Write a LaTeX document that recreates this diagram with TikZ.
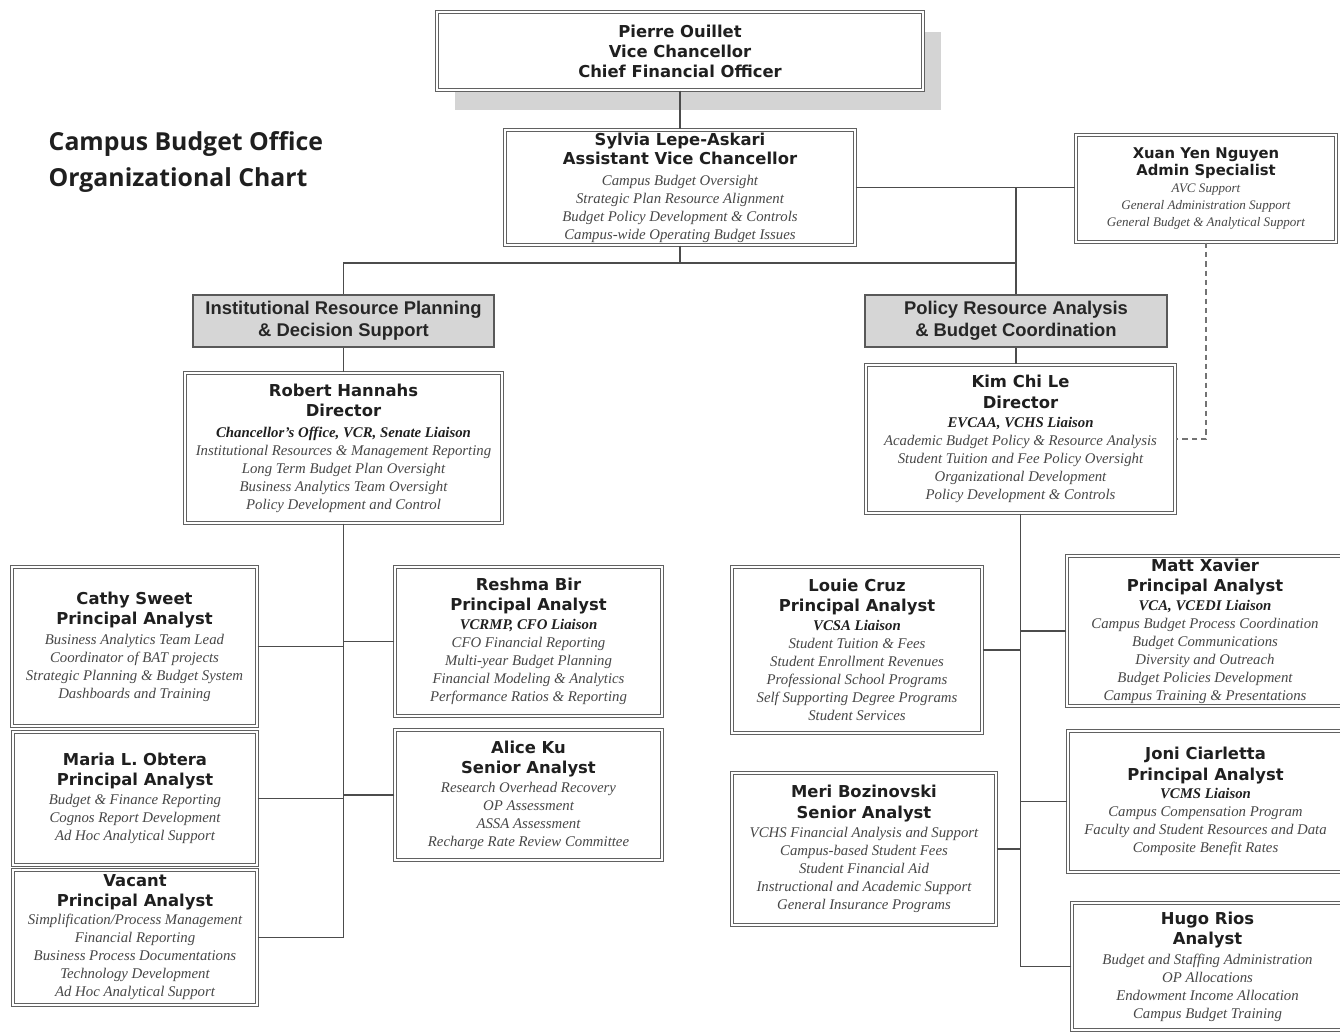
\documentclass[tikz,border=0pt]{standalone}
\usepackage{fontspec}
\setmainfont{Liberation Serif}
\newfontfamily\verd{DejaVu Sans}
\newfontfamily\arl{Liberation Sans}
\newfontfamily\opn{Open Sans}
\lineskiplimit=-20pt\relax
\newcommand\nm[1]{{\verd\bfseries\fontsize{12.3}{13.5}\selectfont\color{black!88}#1}}
\newcommand\du[1]{{\itshape\color{black!72}#1}}
\newcommand\li[1]{{\bfseries\itshape\color{black!88}#1}}
\newcommand\obox[7][box]{\node[#1,minimum width={(#5-#3)*0.75pt},minimum height={(#6-#4)*0.75pt}] (#2) at ({(#3+#5)/2},{(#4+#6)/2}) {#7};}
\tikzset{
  box/.style={draw=black!62, fill=white, double=white, double distance=1.5pt, line width=0.8pt, inner sep=0pt, align=center,
    font=\fontsize{11.1}{13.5}\selectfont},
  hdr/.style={draw=black!65, fill=black!16, line width=0.9pt, inner sep=0pt, align=center,
    font=\arl\bfseries\fontsize{13.8}{16.5}\selectfont, text=black!85},
  conn/.style={draw=black!70, line width=0.8pt},
  shade box/.style={fill=black!17, draw=none},
}
\begin{document}
\begin{tikzpicture}[x=0.75pt,y=-0.75pt]
\lineskiplimit=-20pt\relax
\useasboundingbox[fill=white] (0,0) rectangle (1340,1034);

\node[anchor=west, align=left, font=\opn\bfseries\fontsize{18.6}{27}\selectfont, text=black!88] (title) at (44,162) {Campus Budget Office\\Organizational Chart};

\fill[shade box] (455,32) rectangle (941,110);
\obox{pierre}{437}{12}{923}{90}{\nm{Pierre Ouillet}\\[1.5pt]\nm{Vice Chancellor}\\[1.5pt]\nm{Chief Financial Officer}}

\obox{sylvia}{505}{130}{855}{245}{\nm{Sylvia Lepe-Askari}\\[0.75pt]\nm{Assistant Vice Chancellor}\\[2.25pt]
\du{Campus Budget Oversight}\\\du{Strategic Plan Resource Alignment}\\\du{Budget Policy Development \& Controls}\\\du{Campus-wide Operating Budget Issues}}

\obox[box,font=\fontsize{9.8}{12.6}\selectfont]{xuan}{1076}{135}{1336}{242}{{\verd\bfseries\fontsize{11.1}{12.6}\selectfont\color{black!88}Xuan Yen Nguyen}\\[0.3pt]{\verd\bfseries\fontsize{11.1}{12.6}\selectfont\color{black!88}Admin Specialist}\\[0.3pt]
\du{AVC Support}\\\du{General Administration Support}\\\du{General Budget \& Analytical Support}}

\obox[hdr]{irp}{193}{295}{494}{347}{Institutional Resource Planning\\\& Decision Support}
\obox[hdr]{pra}{865}{295}{1167}{347}{Policy Resource Analysis\\\& Budget Coordination}

\obox{robert}{185}{373}{502}{523}{\nm{Robert Hannahs}\\[1.5pt]\nm{Director}\\[2.25pt]
\li{Chancellor's Office, VCR, Senate Liaison}\\\du{Institutional Resources \& Management Reporting}\\\du{Long Term Budget Plan Oversight}\\\du{Business Analytics Team Oversight}\\\du{Policy Development and Control}}

\obox{kim}{866}{365}{1175}{513}{\nm{Kim Chi Le}\\[2.25pt]\nm{Director}\\[0.75pt]
\li{EVCAA, VCHS Liaison}\\\du{Academic Budget Policy \& Resource Analysis}\\\du{Student Tuition and Fee Policy Oversight}\\\du{Organizational Development}\\\du{Policy Development \& Controls}}

\obox{cathy}{12}{567}{257}{726}{\nm{Cathy Sweet}\\[1.5pt]\nm{Principal Analyst}\\[1.5pt]
\du{Business Analytics Team Lead}\\\du{Coordinator of BAT projects}\\\du{Strategic Planning \& Budget System}\\\du{Dashboards and Training}}

\obox{reshma}{395}{567}{662}{716}{\nm{Reshma Bir}\\[1.5pt]\nm{Principal Analyst}\\[0.75pt]
\li{VCRMP, CFO Liaison}\\\du{CFO Financial Reporting}\\\du{Multi-year Budget Planning}\\\du{Financial Modeling \& Analytics}\\\du{Performance Ratios \& Reporting}}

\obox{maria}{13}{732}{257}{865}{\nm{Maria L. Obtera}\\[1.5pt]\nm{Principal Analyst}\\[0.75pt]
\du{Budget \& Finance Reporting}\\\du{Cognos Report Development}\\\du{Ad Hoc Analytical Support}}

\obox{vacant}{13}{870}{257}{1005}{\nm{Vacant}\\[1.5pt]\nm{Principal Analyst}\\
\du{Simplification/Process Management}\\\du{Financial Reporting}\\\du{Business Process Documentations}\\\du{Technology Development}\\\du{Ad Hoc Analytical Support}}

\obox{alice}{395}{730}{662}{860}{\nm{Alice Ku}\\[1.5pt]\nm{Senior Analyst}\\[0.75pt]
\du{Research Overhead Recovery}\\\du{OP Assessment}\\\du{ASSA Assessment}\\\du{Recharge Rate Review Committee}}

\obox{louie}{732}{567}{982}{733}{\nm{Louie Cruz}\\[1.5pt]\nm{Principal Analyst}\\[0.75pt]
\li{VCSA Liaison}\\\du{Student Tuition \& Fees}\\\du{Student Enrollment Revenues}\\\du{Professional School Programs}\\\du{Self Supporting Degree Programs}\\\du{Student Services}}

\obox{meri}{732}{773}{996}{925}{\nm{Meri Bozinovski}\\[2.25pt]\nm{Senior Analyst}\\[0.75pt]
\du{VCHS Financial Analysis and Support}\\\du{Campus-based Student Fees}\\\du{Student Financial Aid}\\\du{Instructional and Academic Support}\\\du{General Insurance Programs}}

\obox{matt}{1067}{556}{1343}{706}{\nm{Matt Xavier}\\[1.5pt]\nm{Principal Analyst}\\[0.75pt]
\li{VCA, VCEDI Liaison}\\\du{Campus Budget Process Coordination}\\\du{Budget Communications}\\\du{Diversity and Outreach}\\\du{Budget Policies Development}\\\du{Campus Training \& Presentations}}

\obox{joni}{1068}{731}{1343}{872}{\nm{Joni Ciarletta}\\[2.25pt]\nm{Principal Analyst}\\
\li{VCMS Liaison}\\\du{Campus Compensation Program}\\\du{Faculty and Student Resources and Data}\\\du{Composite Benefit Rates}}

\obox{hugo}{1072}{903}{1343}{1030}{\nm{Hugo Rios}\\[1.5pt]\nm{Analyst}\\[1.5pt]
\du{Budget and Staffing Administration}\\\du{OP Allocations}\\\du{Endowment Income Allocation}\\\du{Campus Budget Training}}

% connectors
\coordinate (sb) at (680,263);
\draw[conn] (pierre.south) -- (sylvia.north);
\draw[conn] (sylvia.south) -- (sb);
\draw[conn] (irp.north) |- (sb);
\draw[conn] (pra.north) |- (sb);
\draw[conn] (sylvia.east) -- (sylvia.east -| xuan.west);
\draw[conn] (sylvia.east -| pra.north) -- (pra.north);
\draw[conn, dashed, dash pattern=on 4pt off 3pt, draw=black!55] (xuan.south) |- (kim.east);
\draw[conn] (irp.south) -- (irp.south |- robert.north);
\draw[conn] (pra.south) -- (pra.south |- kim.north);

\draw[conn] (robert.south) -- (robert.south |- vacant.east);
\draw[conn] (cathy.east) -- (cathy.east -| robert.south);
\draw[conn] (reshma.west) -- (reshma.west -| robert.south);
\draw[conn] (maria.east) -- (maria.east -| robert.south);
\draw[conn] (alice.west) -- (alice.west -| robert.south);
\draw[conn] (vacant.east) -- (vacant.east -| robert.south);

\draw[conn] (kim.south) -- (kim.south |- hugo.west);
\draw[conn] (louie.east) -- (louie.east -| kim.south);
\draw[conn] (matt.west) -- (matt.west -| kim.south);
\draw[conn] (meri.east) -- (meri.east -| kim.south);
\draw[conn] (joni.west) -- (joni.west -| kim.south);
\draw[conn] (hugo.west) -- (hugo.west -| kim.south);
\end{tikzpicture}
\end{document}
